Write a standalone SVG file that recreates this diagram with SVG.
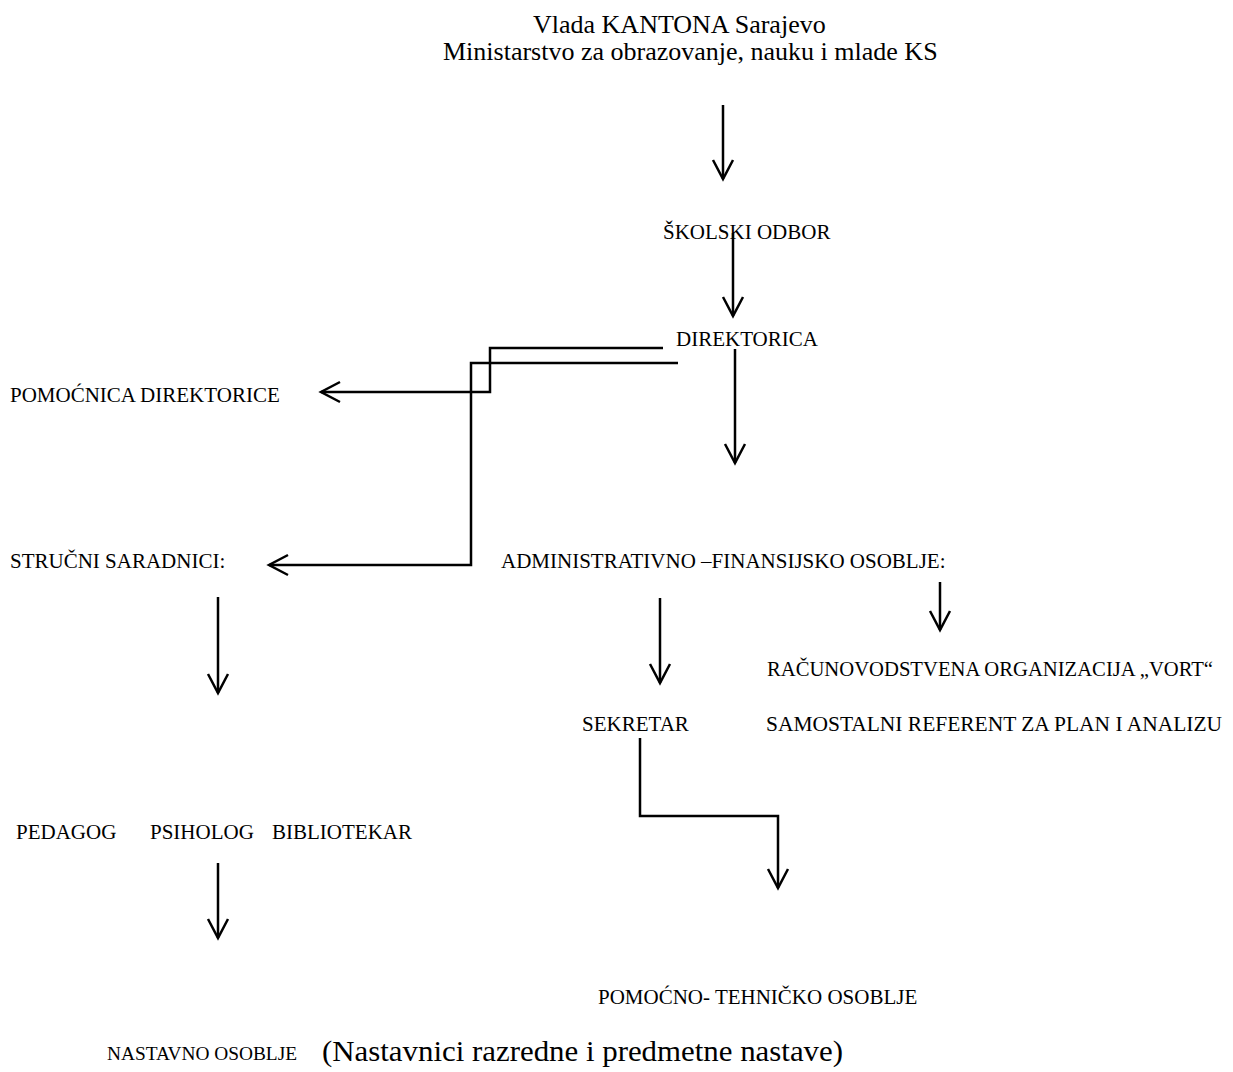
<svg xmlns="http://www.w3.org/2000/svg" width="1233" height="1072" viewBox="0 0 1233 1072">
<style>
text{font-family:"Liberation Serif","Times New Roman",serif;fill:#000}
.t{font-size:26px}
.l{font-size:21px}
.b{font-size:29px}
.c{fill:none;stroke:#000;stroke-width:2.5}
</style>
<defs>
<marker id="arr" markerUnits="userSpaceOnUse" markerWidth="26" markerHeight="26" viewBox="0 0 26 26" refX="22" refY="13" orient="auto">
<path d="M3,3 L22,13 L3,23" fill="none" stroke="#000" stroke-width="2.5"/>
</marker>
</defs>
<rect width="1233" height="1072" fill="#fff"/>
<g id="connectors">
<path class="c" d="M723,105 V179" marker-end="url(#arr)"/>
<path class="c" d="M733,233 V316" marker-end="url(#arr)"/>
<path class="c" d="M735,349 V463" marker-end="url(#arr)"/>
<path class="c" d="M663,348 H490 V392 H321" marker-end="url(#arr)"/>
<path class="c" d="M678,363 H471 V565 H269" marker-end="url(#arr)"/>
<path class="c" d="M940,582 V630" marker-end="url(#arr)"/>
<path class="c" d="M660,598 V683" marker-end="url(#arr)"/>
<path class="c" d="M218,597 V693" marker-end="url(#arr)"/>
<path class="c" d="M640,738 V816 H778 V888" marker-end="url(#arr)"/>
<path class="c" d="M218,863 V938" marker-end="url(#arr)"/>
</g>
<g id="vlada"><text class="t" x="533" y="33">Vlada KANTONA Sarajevo</text>
<text class="t" x="443" y="60">Ministarstvo za obrazovanje, nauku i mlade KS</text></g>
<g id="skolski-odbor"><text class="l" x="663" y="239">ŠKOLSKI ODBOR</text></g>
<g id="direktorica"><text class="l" x="676" y="346">DIREKTORICA</text></g>
<g id="pomocnica"><text class="l" x="10" y="402">POMOĆNICA DIREKTORICE</text></g>
<g id="strucni"><text class="l" x="10" y="568">STRUČNI SARADNICI:</text></g>
<g id="admin"><text class="l" x="501" y="568">ADMINISTRATIVNO –FINANSIJSKO OSOBLJE:</text></g>
<g id="racunovodstvena"><text class="l" x="767" y="676" textLength="446" lengthAdjust="spacingAndGlyphs">RAČUNOVODSTVENA ORGANIZACIJA „VORT“</text></g>
<g id="sekretar"><text class="l" x="582" y="731">SEKRETAR</text></g>
<g id="samostalni"><text class="l" x="766" y="731" textLength="456" lengthAdjust="spacingAndGlyphs">SAMOSTALNI REFERENT ZA PLAN I ANALIZU</text></g>
<g id="strucni-list"><text class="l" x="16" y="839">PEDAGOG</text>
<text class="l" x="150" y="839">PSIHOLOG</text>
<text class="l" x="272" y="839">BIBLIOTEKAR</text></g>
<g id="pomocno"><text class="l" x="598" y="1004">POMOĆNO- TEHNIČKO OSOBLJE</text></g>
<g id="nastavno"><text class="l" x="107" y="1060" style="font-size:18px" textLength="190" lengthAdjust="spacingAndGlyphs">NASTAVNO OSOBLJE</text>
<text class="b" x="322" y="1061" textLength="521" lengthAdjust="spacingAndGlyphs">(Nastavnici razredne i predmetne nastave)</text></g>
</svg>
